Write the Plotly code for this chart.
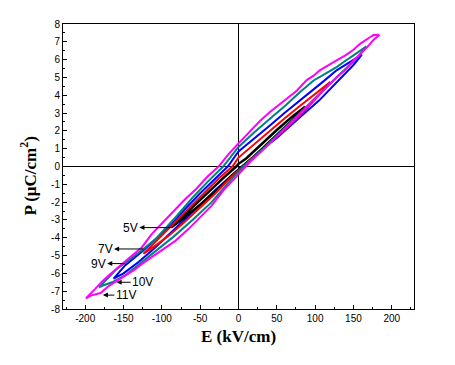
import plotly.graph_objects as go

# ---- data (E in kV/cm, P in uC/cm^2), each loop: upper branch (right->left) then lower branch (left->right)
labels = ["11V", "10V", "9V", "7V", "5V"]
colors = ["#FF00FF", "#008080", "#0000FF", "#FF0000", "#000000"]

E_11_up = [184, 176, 172, 165, 159, 150, 140, 128, 118, 106, 98, 89, 76, 63, 52, 41, 28, 14, 0,
           -13, -26, -40, -55, -70, -85, -100, -113, -126, -136, -147, -158, -169, -178, -187, -199]
P_11_up = [7.40, 7.38, 7.27, 7.05, 6.90, 6.55, 6.25, 5.96, 5.70, 5.40, 5.10, 4.85, 4.25, 3.80, 3.45, 3.06,
           2.55, 1.95, 1.30, 0.70, 0.0, -0.55, -1.25, -1.85, -2.55, -3.20, -3.78, -4.53, -4.90, -5.28,
           -5.70, -6.10, -6.45, -6.87, -7.40]
E_11_lo = [-199, -193, -186, -180, -169, -158, -147, -136, -126, -115, -104, -93, -82, -65, -50, -35, -20,
           0, 15, 30, 45, 58, 72, 85, 100, 114, 128, 140, 150, 160, 168, 176, 184]
P_11_lo = [-7.40, -7.25, -7.15, -7.10, -6.70, -6.40, -6.10, -5.80, -5.47, -5.15, -4.80, -4.50, -4.16,
           -3.50, -2.85, -2.20, -1.35, -0.40, 0.25, 0.85, 1.45, 2.00, 2.60, 3.15, 3.75, 4.40, 5.00, 5.45,
           5.95, 6.35, 6.70, 7.10, 7.40]

E_10_up = [167, 158, 150, 140, 128, 113, 98, 80, 62, 41, 20, 0, -20, -40, -60, -80, -96, -108, -126,
           -147, -160, -169, -182]
P_10_up = [6.74, 6.50, 6.24, 5.95, 5.58, 5.20, 4.83, 4.17, 3.45, 2.68, 1.90, 1.10, 0.0, -0.85, -1.75,
           -2.75, -3.50, -4.06, -4.70, -5.35, -5.80, -6.20, -6.78]
E_10_lo = [-182, -175, -165, -148, -126, -105, -85, -60, -35, -10, 10, 30, 50, 70, 90, 110, 130, 150,
           158, 167]
P_10_lo = [-6.78, -6.65, -6.50, -6.12, -5.37, -4.65, -3.95, -3.00, -2.00, -0.75, 0.15, 0.90, 1.75, 2.60,
           3.40, 4.25, 5.10, 5.90, 6.25, 6.74]

E_9_up = [161, 145, 128, 110, 85, 60, 41, 20, 0, -14, -30, -50, -70, -87, -105, -125, -148, -163]
P_9_up = [6.28, 5.86, 5.40, 4.75, 3.90, 3.00, 2.30, 1.55, 0.85, 0.0, -0.65, -1.50, -2.40, -3.22, -3.95,
          -4.75, -5.55, -6.30]
E_9_lo = [-163, -150, -130, -110, -90, -70, -50, -30, -10, 10, 30, 50, 70, 85, 105, 125, 141, 150, 161]
P_9_lo = [-6.30, -6.00, -5.35, -4.60, -3.80, -3.00, -2.15, -1.30, -0.55, 0.20, 0.95, 1.60, 2.40, 2.95,
          3.70, 4.60, 5.30, 5.70, 6.28]

E_7_up = [120, 100, 80, 60, 40, 20, 0, -8, -25, -45, -65, -85, -105, -124]
P_7_up = [4.75, 4.10, 3.40, 2.70, 1.95, 1.25, 0.50, 0.0, -0.65, -1.50, -2.35, -3.20, -4.05, -4.90]
E_7_lo = [-124, -110, -90, -70, -50, -30, -10, 0, 20, 40, 60, 80, 100, 120]
P_7_lo = [-4.90, -4.50, -3.85, -3.10, -2.30, -1.50, -0.60, -0.20, 0.55, 1.30, 2.05, 2.85, 3.75, 4.75]

E_5_up = [87, 70, 50, 30, 10, 0, -3, -20, -40, -60, -75, -87]
P_5_up = [3.35, 2.80, 2.05, 1.25, 0.45, 0.15, 0.0, -0.65, -1.45, -2.30, -2.90, -3.40]
E_5_lo = [-87, -70, -50, -30, -10, 0, 5, 20, 40, 60, 75, 87]
P_5_lo = [-3.40, -2.85, -2.15, -1.40, -0.55, -0.15, 0.0, 0.55, 1.35, 2.20, 2.80, 3.35]

x_ticks = [-200, -150, -100, -50, 0, 50, 100, 150, 200]
y_ticks = list(range(-8, 9))

x_title = "<b>E (kV/cm)</b>"
y_title = "<b>P (μC/cm<sup>2</sup>)</b>"

# label text position, and far end of its arrow, in data coordinates
lab_text_E = [-147, -125, -183, -174, -141]
lab_P = [-7.22, -6.50, -5.45, -4.63, -3.43]
arrow_end_E = [-177, -159, -148, -124, -86]
head_at_text = [False, False, True, True, True]

loops = [
    (E_11_up + E_11_lo, P_11_up + P_11_lo),
    (E_10_up + E_10_lo, P_10_up + P_10_lo),
    (E_9_up + E_9_lo, P_9_up + P_9_lo),
    (E_7_up + E_7_lo, P_7_up + P_7_lo),
    (E_5_up + E_5_lo, P_5_up + P_5_lo),
]

fig = go.Figure()
draw_order = [2, 4, 3, 1, 0]
for i in draw_order:
    ex, py = loops[i]
    fig.add_trace(go.Scatter(x=ex, y=py, mode="lines", name=labels[i],
                             line=dict(color=colors[i], width=2 if i != 4 else 2.5),
                             showlegend=False))

for i in range(len(labels)):
    fig.add_annotation(x=arrow_end_E[i], y=lab_P[i], ax=lab_text_E[i], ay=lab_P[i],
                       xref="x", yref="y", axref="x", ayref="y",
                       text=labels[i], showarrow=True,
                       arrowside="start" if head_at_text[i] else "end",
                       arrowhead=2, startarrowhead=2, arrowsize=1, startarrowsize=1,
                       arrowwidth=1, arrowcolor="black", borderpad=1,
                       font=dict(family="Liberation Sans, Arial", size=12, color="black"))

title_font = dict(family="Liberation Serif, Times New Roman", size=17, color="black")
fig.add_annotation(x=0.5, y=0, xref="paper", yref="paper", text=x_title, showarrow=False,
                   xanchor="center", yanchor="middle", yshift=-27, font=title_font)
fig.add_annotation(x=0, y=0.5, xref="paper", yref="paper", text=y_title, showarrow=False,
                   textangle=-90, xanchor="center", yanchor="middle", xshift=-35, yshift=-10,
                   font=title_font)

axis_common = dict(showgrid=False, showline=True, mirror=True, linecolor="black", linewidth=1,
                   zeroline=True, zerolinecolor="black", zerolinewidth=1, automargin=False,
                   ticks="inside", tickcolor="black", ticklen=4, tickwidth=1,
                   tickfont=dict(family="Liberation Sans, Arial", size=10, color="black"))

fig.update_xaxes(range=[-229, 229], tickvals=x_ticks, ticktext=[str(v) for v in x_ticks],
                 minor=dict(ticks="inside", ticklen=2, dtick=25, tick0=0, tickcolor="black"),
                 **axis_common)
fig.update_yaxes(range=[-8, 8], tickvals=y_ticks, ticktext=[str(v) for v in y_ticks],
                 minor=dict(ticks="inside", ticklen=2, dtick=0.5, tick0=0, tickcolor="black"),
                 **axis_common)

# page body adds an 8px offset, so the figure is 8px smaller than the window
fig.update_layout(width=447, height=357, margin=dict(l=55, r=41, t=16, b=56),
                  paper_bgcolor="white", plot_bgcolor="white", showlegend=False)

fig.write_html("out.html")
